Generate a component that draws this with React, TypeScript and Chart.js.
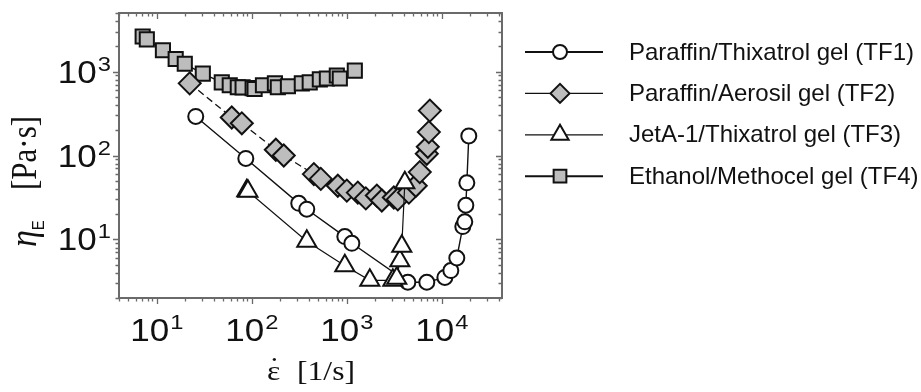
import React, { useEffect, useRef } from 'react';
import { Chart, registerables } from 'chart.js';
import { drawPoint } from 'chart.js/helpers';

Chart.register(...registerables);

// Extensional viscosity of four gel formulations versus strain rate
const seriesLabels = [
  'Paraffin/Thixatrol gel (TF1)',
  'Paraffin/Aerosil gel (TF2)',
  'JetA-1/Thixatrol gel (TF3)',
  'Ethanol/Methocel gel (TF4)',
];

// strain rate [1/s]
const tf1Rate = [25.7, 86.5, 312, 379, 953, 1130, 4390, 6950, 10770, 12440, 14380, 16630, 17450, 17900, 18340, 19230];
// extensional viscosity [Pa·s]
const tf1Visc = [292, 92.3, 26.9, 22.9, 10.8, 8.98, 3.08, 3.08, 3.52, 4.25, 6.0, 14.2, 16.2, 25.5, 47.2, 171];

const tf2Rate = [22.2, 61.5, 78.5, 179, 217, 450, 532, 804, 1000, 1306, 1585, 2070, 2336, 3126, 3440, 4500, 5320, 5860, 6950, 7120, 7300, 7480];
const tf2Visc = [725, 284, 242, 117, 100, 60, 52.6, 43.6, 38.1, 36.1, 30.8, 33.3, 29.1, 31.6, 30, 36.1, 43.6, 63.4, 105, 127, 190, 343];

const tf3Rate = [88.5, 91, 379, 953, 1746, 3050, 3355, 3615, 3790, 4080];
const tf3Visc = [38.1, 37.5, 9.5, 4.85, 3.25, 3.25, 3.43, 5.55, 8.3, 47.2];

const tf4Rate = [7.1, 7.85, 11.6, 15.8, 19.7, 30.5, 48.3, 58.6, 71.2, 80, 102, 107, 131, 175, 188, 240, 336, 407, 520, 617, 785, 844, 1214];
const tf4Visc = [2620, 2420, 1800, 1415, 1240, 948, 745, 687, 651, 650, 635, 620, 687, 725, 651, 669, 725, 745, 807, 829, 898, 829, 1027];

// decades that carry a "10^n" label
const xDecades = [1, 2, 3, 4];
const yDecades = [1, 2, 3];

const sansFont = '"Liberation Sans", Arial, sans-serif';
const serifFont = '"Liberation Serif", "Times New Roman", serif';
const textStretch = 1.13;
const frameColor = '#6a6a6a';
const markerGray = '#bdbdbd';

const pairUp = (xs: number[], ys: number[]) => xs.map((x, i) => ({ x, y: ys[i] }));

function drawPower(ctx: CanvasRenderingContext2D, x: number, baseline: number, exp: string, align: 'center' | 'right') {
  ctx.font = `31px ${sansFont}`;
  const wBase = ctx.measureText('10').width;
  ctx.font = `21px ${sansFont}`;
  const wExp = ctx.measureText(exp).width;
  const total = (wBase + 1 + wExp) * textStretch;
  const left = align === 'center' ? x - total / 2 : x - total;
  ctx.save();
  ctx.translate(left, baseline);
  ctx.scale(textStretch, 1);
  ctx.textAlign = 'left';
  ctx.textBaseline = 'alphabetic';
  ctx.fillStyle = '#111';
  ctx.font = `31px ${sansFont}`;
  ctx.fillText('10', 0, 0);
  ctx.font = `21px ${sansFont}`;
  ctx.fillText(exp, wBase + 1, -12);
  ctx.restore();
}

// frame with log tick marks, power-of-ten labels and axis titles
const framePlugin = {
  id: 'logFrame',
  afterDatasetsDraw(chart: any) {
    const { ctx, chartArea: a, scales } = chart;
    const xs = scales.x;
    const ys = scales.y;
    ctx.save();
    ctx.strokeStyle = frameColor;
    ctx.lineWidth = 2;
    ctx.strokeRect(a.left, a.top, a.right - a.left, a.bottom - a.top);

    ctx.lineWidth = 1.3;
    const logTicks = (min: number, max: number) => {
      const out: { v: number; major: boolean }[] = [];
      for (let n = Math.floor(Math.log10(min)); n <= Math.ceil(Math.log10(max)); n++) {
        for (let k = 1; k <= 9; k++) {
          const v = k * Math.pow(10, n);
          if (v >= min && v <= max) out.push({ v, major: k === 1 });
        }
      }
      return out;
    };
    ctx.beginPath();
    for (const t of logTicks(xs.min, xs.max)) {
      const px = Math.round(xs.getPixelForValue(t.v)) + 0.5;
      const len = t.major ? 6 : 3.5;
      ctx.moveTo(px, a.bottom);
      ctx.lineTo(px, a.bottom + len);
      ctx.moveTo(px, a.top);
      ctx.lineTo(px, a.top + len);
    }
    for (const t of logTicks(ys.min, ys.max)) {
      const py = Math.round(ys.getPixelForValue(t.v)) + 0.5;
      const len = t.major ? 6 : 3.5;
      ctx.moveTo(a.left - len, py);
      ctx.lineTo(a.left, py);
      ctx.moveTo(a.right - len, py);
      ctx.lineTo(a.right, py);
    }
    ctx.stroke();

    for (const n of xDecades) {
      drawPower(ctx, xs.getPixelForValue(Math.pow(10, n)), a.bottom + 43, String(n), 'center');
    }
    for (const n of yDecades) {
      drawPower(ctx, a.left - 8, ys.getPixelForValue(Math.pow(10, n)) + 11, String(n), 'right');
    }

    // x title: strain-rate symbol with an overdot, then the unit
    ctx.fillStyle = '#111';
    ctx.textAlign = 'left';
    ctx.textBaseline = 'alphabetic';
    ctx.save();
    ctx.translate(267, 380);
    ctx.scale(textStretch, 1);
    ctx.font = `28px ${serifFont}`;
    ctx.fillText('\u03B5', 0, 0);
    const wEps = ctx.measureText('\u03B5').width;
    ctx.textAlign = 'center';
    ctx.fillText('\u02D9', wEps / 2 + 0.5, -4);
    ctx.textAlign = 'left';
    ctx.fillText('[1/s]', 30 / textStretch, 0);
    ctx.restore();

    // y title
    ctx.save();
    ctx.translate(36, 247);
    ctx.scale(textStretch, 1);
    ctx.rotate(-Math.PI / 2);
    ctx.font = `italic 34px ${serifFont}`;
    ctx.fillText('\u03B7', 0, 0);
    const wEta = ctx.measureText('\u03B7').width;
    ctx.font = `15px ${sansFont}`;
    ctx.fillText('E', wEta, 7);
    ctx.font = `31px ${serifFont}`;
    ctx.fillText('[Pa\u00B7s]', 57, 0);
    ctx.restore();

    ctx.restore();
  },
};

// legend to the right of the plot: line with marker, then label
const legendWidths = [2, 1.2, 1.2, 2];
const legendRadius = [7, 9.5, 10, 9];
const legendPlugin = {
  id: 'sideLegend',
  afterDraw(chart: any) {
    const { ctx } = chart;
    ctx.save();
    chart.data.datasets.forEach((ds: any, i: number) => {
      const y = 52 + i * 41.4;
      ctx.strokeStyle = '#111';
      ctx.lineWidth = legendWidths[i];
      ctx.setLineDash([]);
      ctx.beginPath();
      ctx.moveTo(525, y);
      ctx.lineTo(603, y);
      ctx.stroke();
      ctx.fillStyle = ds.pointBackgroundColor;
      ctx.strokeStyle = ds.pointBorderColor;
      ctx.lineWidth = 2;
      drawPoint(ctx, { pointStyle: ds.pointStyle, radius: legendRadius[i], rotation: 0, borderWidth: 2 }, 560, y);
      ctx.fillStyle = '#111';
      ctx.font = `24px ${sansFont}`;
      ctx.textAlign = 'left';
      ctx.textBaseline = 'middle';
      ctx.fillText(ds.label, 629, y + 1);
    });
    ctx.restore();
  },
};

export default function App() {
  const ref = useRef<HTMLCanvasElement>(null);
  useEffect(() => {
    document.body.style.margin = '0';
    const common = { showLine: true, fill: false, tension: 0, pointBorderColor: '#111', pointBorderWidth: 2, borderColor: '#111' };
    const chart = new Chart(ref.current as HTMLCanvasElement, {
      type: 'scatter',
      data: {
        datasets: [
          { ...common, label: seriesLabels[0], data: pairUp(tf1Rate, tf1Visc), borderWidth: 1.4, pointStyle: 'circle', pointRadius: 7.5, pointBackgroundColor: '#fff', order: 1 },
          { ...common, label: seriesLabels[1], data: pairUp(tf2Rate, tf2Visc), borderWidth: 1.3, borderDash: [7, 4], pointStyle: 'rectRot', pointRadius: 11, pointBackgroundColor: markerGray, order: 2 },
          { ...common, label: seriesLabels[2], data: pairUp(tf3Rate, tf3Visc), borderWidth: 1.2, pointStyle: 'triangle', pointRadius: 11, pointBackgroundColor: '#fff', order: 0 },
          { ...common, label: seriesLabels[3], data: pairUp(tf4Rate, tf4Visc), borderWidth: 1.4, pointStyle: 'rect', pointRadius: 10, pointBackgroundColor: markerGray, order: 3 },
        ] as any,
      },
      options: {
        responsive: false,
        animation: false,
        devicePixelRatio: 1,
        events: [],
        layout: { padding: { left: 119, right: 419, top: 5, bottom: 94 } },
        scales: {
          x: { type: 'logarithmic', min: 4, max: 43000, display: false },
          y: { type: 'logarithmic', min: 2, max: 5000, display: false },
        },
        plugins: { legend: { display: false }, tooltip: { enabled: false } },
      } as any,
      plugins: [framePlugin, legendPlugin],
    });
    return () => chart.destroy();
  }, []);
  return <canvas ref={ref} width={921} height={392} style={{ display: 'block', width: 921, height: 392 }} />;
}
